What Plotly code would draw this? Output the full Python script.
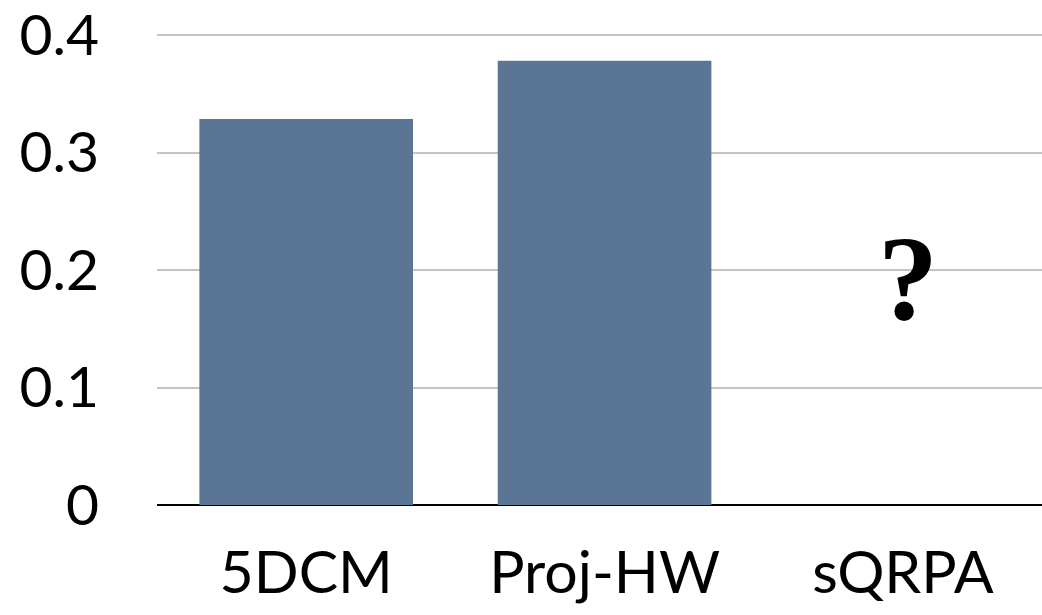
import plotly.graph_objects as go

# Data
categories = ["5DCM", "Proj-HW", "sQRPA"]
values = [0.3285, 0.378, None]
y_ticks = [0, 0.1, 0.2, 0.3, 0.4]
y_tick_labels = ["0", "0.1", "0.2", "0.3", "0.4"]
unknown_label = "?"
unknown_label_y = 0.193

bar_color = "#5b7694"
label_font = "Lato, 'Gill Sans', 'Open Sans', sans-serif"

fig = go.Figure()
fig.add_trace(go.Bar(
    x=categories,
    y=values,
    width=0.716,
    marker=dict(color=bar_color, line=dict(width=0)),
    hoverinfo="x+y",
))

fig.add_annotation(
    x=categories[2], y=unknown_label_y, xref="x", yref="y",
    text="<b>" + unknown_label + "</b>",
    showarrow=False,
    font=dict(family="Liberation Serif, 'Times New Roman', serif", size=120, color="#000000"),
    xshift=5,
)

fig.update_layout(
    width=1042, height=615,
    margin=dict(l=157, r=0, t=33, b=110),
    paper_bgcolor="white",
    plot_bgcolor="white",
    showlegend=False,
    font=dict(family=label_font, color="#000000"),
)

fig.update_xaxes(
    range=[-0.5, 2.466],
    showgrid=False,
    showline=False,
    zeroline=False,
    ticks="",
    tickfont=dict(family=label_font, size=59, color="#000000"),
    ticklabelstandoff=28,
)

fig.update_yaxes(
    range=[0, 0.4017],
    tickvals=y_ticks,
    ticktext=y_tick_labels,
    showgrid=True,
    gridcolor="#c4c4c4",
    gridwidth=2,
    zeroline=True,
    zerolinecolor="#000000",
    zerolinewidth=2,
    showline=False,
    ticks="",
    tickfont=dict(family=label_font, size=57, color="#000000"),
    ticklabelstandoff=57,
    ticklabeloverflow="allow",
    automargin=False,
)

fig.write_html("out.html")
